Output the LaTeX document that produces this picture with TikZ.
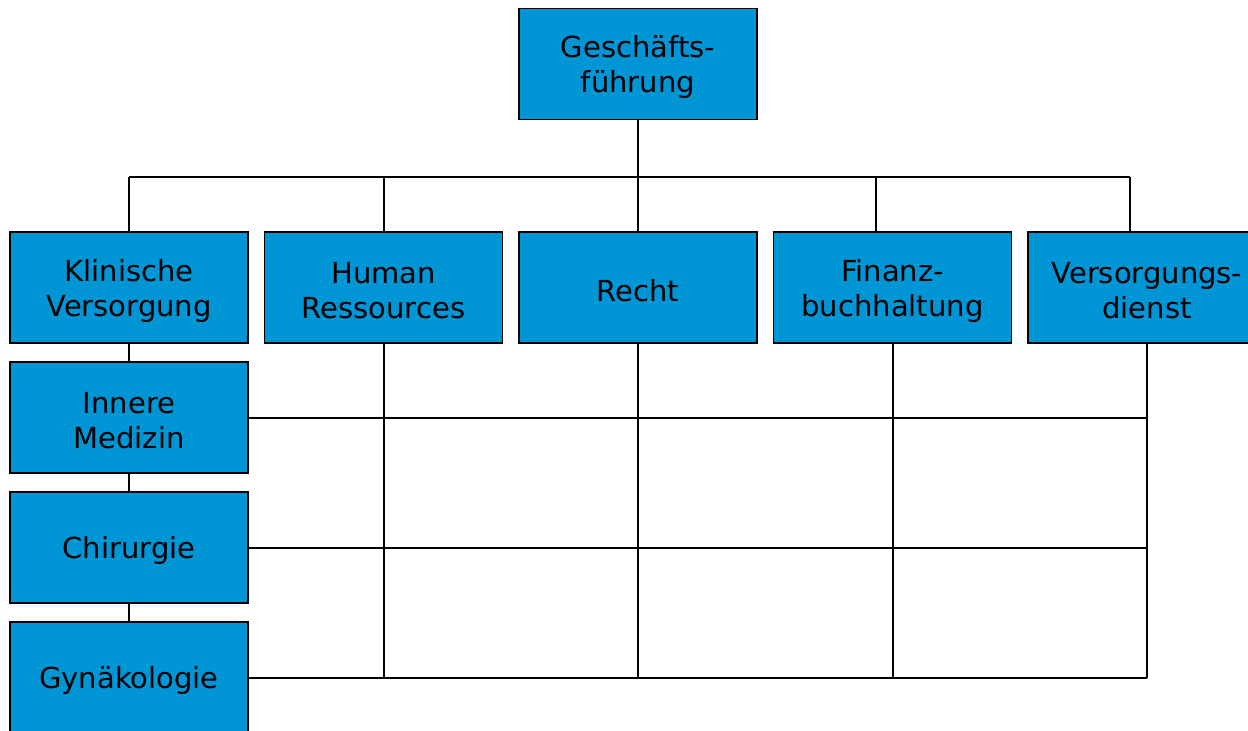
\documentclass[tikz,border=0pt]{standalone}
\usepackage{fontspec}
\setmainfont{DejaVu Sans}
\usetikzlibrary{calc}
\definecolor{boxblue}{RGB}{0,150,214}
\begin{document}
\begin{tikzpicture}[x=1pt,y=-1pt,
  unit/.style={draw=black,line width=1.8pt,fill=boxblue,minimum width=238pt,minimum height=111pt,
    inner sep=0pt,align=center,font=\fontsize{29}{35}\selectfont,text=black},
  caption/.style={label={[align=center,font=\fontsize{29}{35}\selectfont,text=black,inner sep=0pt,yshift=-3pt]center:#1}},
  link/.style={line width=2pt,black}]
\useasboundingbox (0,0) rectangle (1248,731);
\clip (0,0) rectangle (1248,731);
% top level
\node[unit,caption={Geschäfts-\\führung}] (gf) at (638,64) {};
% departments
\node[unit,caption={Klinische\\Versorgung}] (kv) at (129,287.5) {};
\node[unit,caption={Human\\Ressources}] (hr) at (383.5,287.5) {};
\node[unit,caption={Recht}] (re) at (638,287.5) {};
\node[unit,caption={Finanz-\\buchhaltung}] (fb) at (892.5,287.5) {};
\node[unit,caption={Versorgungs-\\dienst}] (vd) at (1147,287.5) {};
% clinical sub-units
\node[unit,caption={Innere\\Medizin}] (im) at (129,417.5) {};
\node[unit,caption={Chirurgie}] (ch) at (129,547.5) {};
\node[unit,caption={Gynäkologie}] (gy) at (129,677.5) {};
% bus below the management box
\coordinate (busL) at (129,177);
\coordinate (busR) at (1130,177);
\coordinate (fbtap) at (876,177);
\draw[link] (busL) -- (busR);
\draw[link] (gf.south) -- (gf.south |- busL);
\draw[link] (kv.north) -- (kv.north |- busL);
\draw[link] (hr.north) -- (hr.north |- busL);
\draw[link] (re.north) -- (re.north |- busL);
\draw[link] (fbtap) -- (fbtap |- fb.north);
\draw[link] (busR) -- (busR |- vd.north);
% clinical chain
\draw[link] (kv.south) -- (im.north);
\draw[link] (im.south) -- (ch.north);
\draw[link] (ch.south) -- (gy.north);
% matrix grid
\draw[link] (hr.south) -- (hr.south |- gy.east);
\draw[link] (re.south) -- (re.south |- gy.east);
\draw[link] (fb.south) -- (fb.south |- gy.east);
\draw[link] (vd.south) -- (vd.south |- gy.east);
\draw[link] (im.east) -- (im.east -| vd.south);
\draw[link] (ch.east) -- (ch.east -| vd.south);
\draw[link] (gy.east) -- (gy.east -| vd.south);
\end{tikzpicture}
\end{document}
